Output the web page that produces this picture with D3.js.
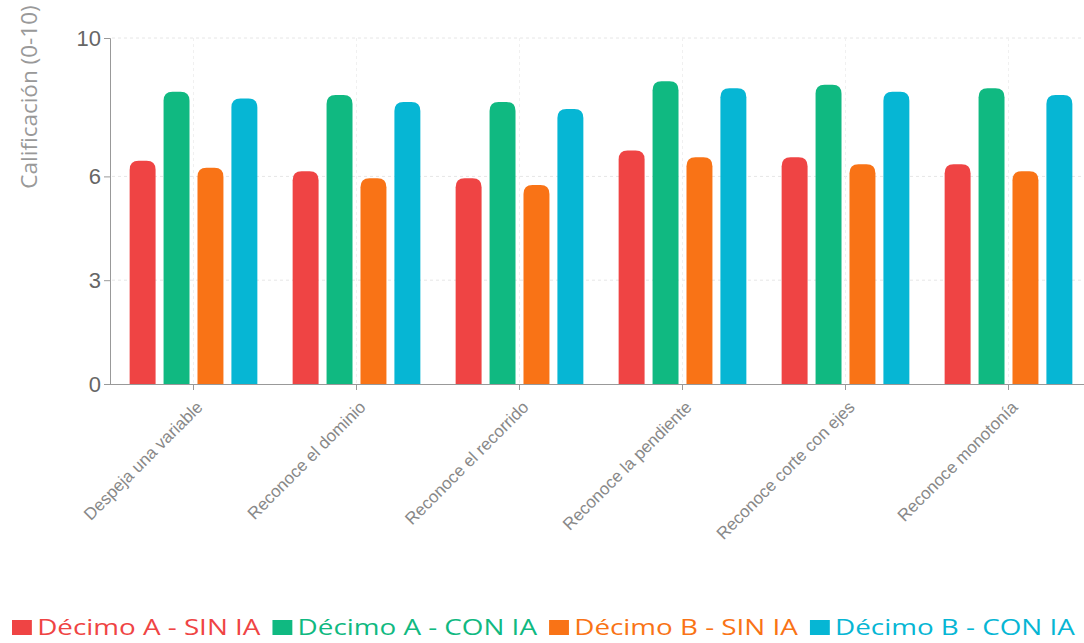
<!DOCTYPE html>
<html>
<head>
<meta charset="utf-8">
<script src="https://cdn.jsdelivr.net/npm/d3@7"></script>
<style>
  body { margin: 0; background: #fff; }
  svg { display: block; font-family: "Open Sans", "Noto Sans", sans-serif; }
</style>
</head>
<body>
<svg id="chart" width="1084" height="643"></svg>
<script>
var categories = ['Despeja una variable', 'Reconoce el dominio', 'Reconoce el recorrido',
  'Reconoce la pendiente', 'Reconoce corte con ejes', 'Reconoce monotonía'];
var seriesNames = ['Décimo A - SIN IA', 'Décimo A - CON IA', 'Décimo B - SIN IA', 'Décimo B - CON IA'];
var decimoASin = [6.45, 6.15, 5.95, 6.75, 6.55, 6.35];
var decimoACon = [8.45, 8.35, 8.15, 8.75, 8.65, 8.55];
var decimoBSin = [6.25, 5.95, 5.75, 6.55, 6.35, 6.15];
var decimoBCon = [8.25, 8.15, 7.95, 8.55, 8.45, 8.35];
var yTicks = [0, 3, 6, 10];

var colors = ['#ef4444', '#10b981', '#f97316', '#06b6d4'];
var allSeries = [decimoASin, decimoACon, decimoBSin, decimoBCon];

var svg = d3.select('#chart');

var x = d3.scaleBand().domain(categories).range([112, 1090]);
var xInner = d3.scaleBand().domain(d3.range(4)).range([0, x.bandwidth()])
  .paddingInner(0.235).paddingOuter(0.52);
var y = d3.scaleLinear().domain([0, 10]).range([384, 38]);

// grid
var grid = svg.append('g');
grid.selectAll('line.h')
  .data(yTicks.filter(d => d > 0))
  .enter().append('line')
    .attr('x1', 112).attr('x2', 1090)
    .attr('y1', d => y(d)).attr('y2', d => y(d))
    .attr('stroke', '#e6e6e6').attr('stroke-dasharray', '3,3');
grid.selectAll('line.v')
  .data(categories)
  .enter().append('line')
    .attr('x1', d => x(d) + x.bandwidth() / 2).attr('x2', d => x(d) + x.bandwidth() / 2)
    .attr('y1', 38).attr('y2', 384)
    .attr('stroke', '#f0f0f0').attr('stroke-dasharray', '3,3');

// bars with rounded tops
function barPath(x0, w, top, bottom, r) {
  r = Math.min(r, w / 2, bottom - top);
  return 'M' + x0 + ',' + bottom +
    'V' + (top + r) +
    'Q' + x0 + ',' + top + ' ' + (x0 + r) + ',' + top +
    'H' + (x0 + w - r) +
    'Q' + (x0 + w) + ',' + top + ' ' + (x0 + w) + ',' + (top + r) +
    'V' + bottom + 'Z';
}

var groups = svg.append('g').selectAll('g')
  .data(categories)
  .enter().append('g')
    .attr('transform', d => 'translate(' + x(d) + ',0)');

groups.selectAll('path')
  .data((d, ci) => allSeries.map((s, si) => ({ si: si, v: s[ci] })))
  .enter().append('path')
    .attr('fill', d => colors[d.si])
    .attr('d', d => barPath(xInner(d.si), xInner.bandwidth(), y(d.v), y(0), 9));

// axes
var yAxis = svg.append('g')
  .attr('transform', 'translate(110,0)')
  .call(d3.axisLeft(y).tickValues(yTicks).tickSize(6).tickPadding(3));
yAxis.attr('font-size', null);
yAxis.select('.domain').attr('stroke', '#999');
yAxis.selectAll('.tick line').attr('stroke', '#999');
yAxis.selectAll('.tick text').attr('fill', '#666').style('font-size', '22px');

var xAxis = svg.append('g')
  .attr('transform', 'translate(0,384)')
  .call(d3.axisBottom(x).tickSize(6).tickSizeOuter(0));
xAxis.attr('font-size', null);
xAxis.select('.domain').attr('stroke', '#999').attr('d', 'M110,0.5H1084');
xAxis.selectAll('.tick line').attr('stroke', '#999');
xAxis.selectAll('.tick text')
  .attr('fill', '#888')
  .style('font-size', '17px')
  .attr('text-anchor', 'end')
  .attr('y', 0)
  .attr('dy', '0.35em')
  .attr('transform', 'translate(6,20) rotate(-45)');

svg.append('text')
  .attr('transform', 'translate(29,97) rotate(-90)')
  .attr('text-anchor', 'middle')
  .attr('dy', '0.35em')
  .attr('fill', '#999')
  .style('font-size', '22.5px')
  .text('Calificación (0-10)');

// legend
var legend = svg.append('g').attr('transform', 'translate(0,628)');
var items = legend.selectAll('g')
  .data(seriesNames)
  .enter().append('g');
items.append('rect')
  .attr('width', 15).attr('height', 15).attr('y', -8)
  .attr('fill', (d, i) => colors[i]);
items.append('text')
  .attr('x', 19).attr('dy', '0.35em')
  .attr('fill', (d, i) => colors[i])
  .style('font-size', '21px')
  .text(d => d);

var textW = [];
items.selectAll('text').each(function () { textW.push(this.getComputedTextLength()); });
var total = d3.sum(textW) + seriesNames.length * 19 + (seriesNames.length - 1) * 9;
var scaleX = 1063 / total;
var pos = 12;
items.each(function (d, i) {
  d3.select(this).attr('transform', 'translate(' + pos + ',0) scale(' + scaleX + ',1)');
  pos += (textW[i] + 19 + 9) * scaleX;
});
</script>
</body>
</html>
